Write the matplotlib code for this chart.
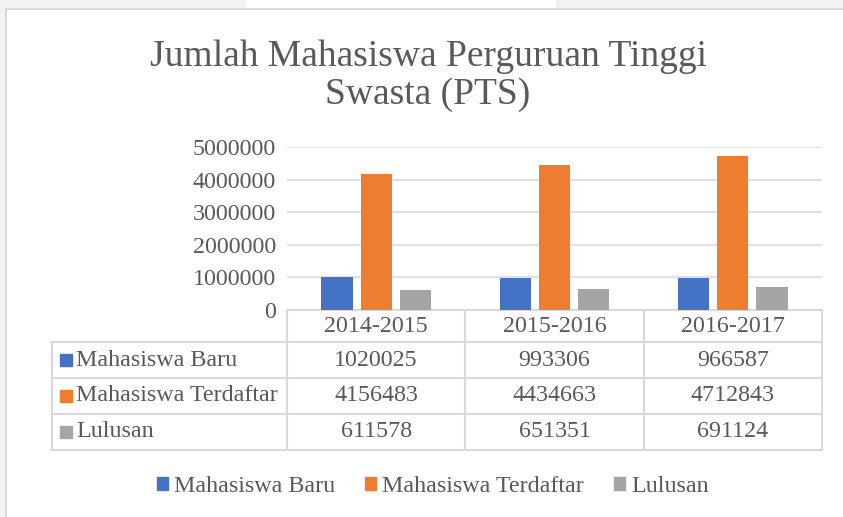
import numpy as np
import matplotlib.pyplot as plt
from matplotlib.patches import Rectangle

years = ["2014-2015", "2015-2016", "2016-2017"]
series = ["Mahasiswa Baru", "Mahasiswa Terdaftar", "Lulusan"]
baru = [1020025, 993306, 966587]
terdaftar = [4156483, 4434663, 4712843]
lulusan = [611578, 651351, 691124]
colors = ["#4472C4", "#ED7D31", "#A5A5A5"]

plt.rcParams["font.family"] = "Liberation Serif"
txt = "#595959"
grid = "#d9d9d9"
fs = 17.3
W, H = 843, 517

fig = plt.figure(figsize=(W / 100, H / 100), dpi=100, facecolor="#f2f2f2")
# white chart area with light border
fig.patches.append(Rectangle((6 / W, -0.1), 1.1, (H - 9) / H + 0.1, transform=fig.transFigure,
                             facecolor="white", edgecolor=grid, lw=1.5, zorder=-2))
fig.patches.append(Rectangle((246 / W, (H - 8) / H), 310 / W, 8 / H, transform=fig.transFigure,
                             facecolor="white", edgecolor="none", zorder=-2))

fig.text(428 / W, 1 - 76 / H, "Jumlah Mahasiswa Perguruan Tinggi\nSwasta (PTS)",
         ha="center", va="center", fontsize=27, color=txt, linespacing=1.12)

ax = fig.add_axes([287 / W, 1 - 310 / H, 535 / W, 163 / H])
ax.set_facecolor("none")
ax.set_zorder(1)
x = np.arange(len(years))
bw = 0.175
off = 0.22
for i, (vals, c) in enumerate(zip([baru, terdaftar, lulusan], colors)):
    ax.bar(x + (i - 1) * off, vals, width=bw, color=c, zorder=3)

ax.set_xlim(-0.5, 2.5)
ax.set_ylim(0, 5000000)
ax.set_yticks(np.arange(0, 5000001, 1000000))
ax.set_yticklabels(["%d" % v for v in np.arange(0, 5000001, 1000000)])
ax.tick_params(axis="y", length=0, pad=8, labelsize=fs, labelcolor=txt)
ax.set_xticks([])
ax.grid(axis="y", color=grid, lw=1.1, zorder=0)
for s in ax.spines.values():
    s.set_visible(False)

# data table below the axis
def ay(py):
    return (310 - py) / 163.0

def axx(px):
    return (px - 287) / 535.0

tlw = 1.5
left = axx(52)
rows_y = [ay(342), ay(378), ay(414), ay(450)]
ax.plot([0, 1], [0, 0], color=grid, lw=tlw, transform=ax.transAxes, clip_on=False)
for yy in rows_y:
    ax.plot([left, 1], [yy, yy], color=grid, lw=tlw, transform=ax.transAxes, clip_on=False)
for xx in [0, 1 / 3, 2 / 3, 1]:
    ax.plot([xx, xx], [0, rows_y[-1]], color=grid, lw=tlw, transform=ax.transAxes, clip_on=False)
ax.plot([left, left], [rows_y[0], rows_y[-1]], color=grid, lw=tlw, transform=ax.transAxes, clip_on=False)

tr = ax.get_xaxis_transform()
for i, yr in enumerate(years):
    ax.text(i, ay(327), yr, ha="center", va="center", fontsize=fs, color=txt, transform=tr)

row_c = [ay(360), ay(396), ay(432)]
for r, (name, vals, c) in enumerate(zip(series, [baru, terdaftar, lulusan], colors)):
    ax.plot([axx(66)], [row_c[r]], marker="s", ms=8, color=c, transform=ax.transAxes, clip_on=False)
    ax.text(axx(76), row_c[r], name, ha="left", va="center", fontsize=fs, color=txt, transform=ax.transAxes)
    for i, v in enumerate(vals):
        ax.text(i, row_c[r], str(v), ha="center", va="center", fontsize=fs, color=txt, transform=tr)

handles = [Rectangle((0, 0), 1, 1, color=c) for c in colors]
fig.legend(handles, series, loc="center", bbox_to_anchor=(433 / W, 1 - 487 / H), ncol=3,
           frameon=False, fontsize=fs, handlelength=0.46, handleheight=0.46,
           handletextpad=0.25, columnspacing=1.25, labelcolor=txt)

fig.savefig("out.png", dpi=100, facecolor=fig.get_facecolor())
